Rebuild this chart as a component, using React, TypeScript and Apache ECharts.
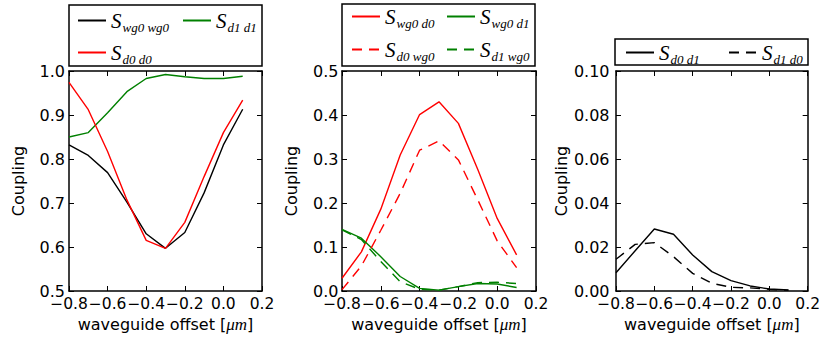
import React, { useEffect, useRef } from "react";
import * as echarts from "echarts";

// waveguide offset [µm]
const offsets = [-0.8, -0.7, -0.6, -0.5, -0.4, -0.3, -0.2, -0.1, 0.0, 0.1];

// Panel 1
const sWg0Wg0 = [0.832, 0.808, 0.769, 0.702, 0.63, 0.597, 0.633, 0.723, 0.832, 0.913];
const sD1D1 = [0.85, 0.86, 0.905, 0.953, 0.983, 0.992, 0.987, 0.983, 0.983, 0.988];
const sD0D0 = [0.974, 0.912, 0.817, 0.707, 0.615, 0.597, 0.656, 0.76, 0.86, 0.934];

// Panel 2
const sWg0D0 = [0.029, 0.089, 0.186, 0.309, 0.401, 0.43, 0.381, 0.276, 0.165, 0.082];
const sD0Wg0 = [0.003, 0.057, 0.138, 0.222, 0.32, 0.341, 0.298, 0.207, 0.114, 0.053];
const sWg0D1 = [0.14, 0.12, 0.078, 0.033, 0.006, 0.002, 0.01, 0.017, 0.016, 0.008];
const sD1Wg0 = [0.139, 0.117, 0.067, 0.021, 0.004, 0.002, 0.01, 0.019, 0.02, 0.017];

// Panel 3
const sD0D1 = [0.0083, 0.0183, 0.0282, 0.0258, 0.0164, 0.0088, 0.0047, 0.0023, 0.0009, 0.0005];
const sD1D0 = [0.0144, 0.0212, 0.022, 0.0156, 0.008, 0.0035, 0.0017, 0.0014, 0.0008, 0.0003];

// axis settings
const xMin = -0.8;
const xMax = 0.2;
const xStep = 0.2;
const yRanges = [
  { min: 0.5, max: 1.0, step: 0.1, digits: 1 },
  { min: 0.0, max: 0.5, step: 0.1, digits: 1 },
  { min: 0.0, max: 0.1, step: 0.02, digits: 2 },
];

const RED = "#ff0000";
const GREEN = "#008000";
const BLACK = "#000000";
const SANS = "DejaVu Sans";
const SERIF = "Liberation Serif";

const grids = [
  { left: 69, top: 71, width: 193, height: 220 },
  { left: 342, top: 71, width: 194, height: 220 },
  { left: 616, top: 71, width: 192, height: 220 },
];
const yLabelMargins = [4, 3.5, 6.5];

const pair = (ys: number[]) => offsets.map((x, i) => [x, ys[i]]);

const fmtX = (v: number) => {
  const a = Math.abs(v).toFixed(1);
  return v < -1e-9 ? "\u2212" + a : a;
};

const axisLine = { show: true, onZero: false, lineStyle: { color: BLACK, width: 1.5 } };
const axisTick = { show: true, inside: true, length: 5, lineStyle: { color: BLACK, width: 1 } };

function xAxes(i: number) {
  const base = {
    type: "value",
    gridIndex: i,
    min: xMin,
    max: xMax,
    interval: xStep,
    axisLine,
    axisTick,
    splitLine: { show: false },
  };
  return [
    {
      ...base,
      position: "bottom",
      axisLabel: {
        margin: 6.5,
        fontSize: 15.5,
        lineHeight: 12,
        color: BLACK,
        fontFamily: SANS,
        formatter: fmtX,
        showMinLabel: true,
        showMaxLabel: true,
        hideOverlap: false,
      },
      name: "waveguide offset [{it|\u03bcm}]",
      nameLocation: "middle",
      nameGap: 24,
      nameTextStyle: {
        fontSize: 16,
        color: BLACK,
        fontFamily: SANS,
        rich: { it: { fontSize: 17, fontStyle: "italic", fontFamily: SERIF, color: BLACK } },
      },
    },
    { ...base, position: "top", axisLabel: { show: false } },
  ];
}

function yAxes(i: number) {
  const r = yRanges[i];
  const base = {
    type: "value",
    gridIndex: i,
    min: r.min,
    max: r.max,
    interval: r.step,
    axisLine,
    axisTick,
    splitLine: { show: false },
  };
  return [
    {
      ...base,
      position: "left",
      axisLabel: {
        margin: yLabelMargins[i],
        fontSize: 16,
        lineHeight: 12,
        color: BLACK,
        fontFamily: SANS,
        showMinLabel: true,
        showMaxLabel: true,
        formatter: (v: number) => v.toFixed(r.digits),
      },
      name: "Coupling",
      nameLocation: "middle",
      nameGap: 43,
      nameTextStyle: { fontSize: 16, color: BLACK, fontFamily: SANS },
    },
    { ...base, position: "right", axisLabel: { show: false } },
  ];
}

const DASH = [10, 7];

function line(name: string, ys: number[], color: string, dashed: boolean, panel: number) {
  return {
    type: "line",
    name,
    xAxisIndex: panel * 2,
    yAxisIndex: panel * 2,
    data: pair(ys),
    showSymbol: false,
    symbol: "none",
    lineStyle: { color, width: 1.4, type: dashed ? DASH : "solid" },
    itemStyle: { color },
    emphasis: { disabled: true },
  };
}

const legendRich = {
  s: { fontSize: 21, fontStyle: "italic", fontFamily: SERIF, color: BLACK, verticalAlign: "top", lineHeight: 21 },
  sub: {
    fontSize: 13,
    fontStyle: "italic",
    fontFamily: SERIF,
    color: BLACK,
    verticalAlign: "top",
    lineHeight: 13,
    padding: [11, 0, 0, 1],
  },
};

function legendItem(name: string, left: number, centerY: number) {
  return {
    data: [name],
    left,
    top: centerY - 9,
    orient: "horizontal",
    itemWidth: 28,
    itemHeight: 12,
    itemGap: 0,
    padding: 0,
    selectedMode: false,
    itemStyle: { opacity: 0, borderWidth: 0 },
    formatter: (n: string) => `{s|S}{sub|${n}}`,
    textStyle: { rich: legendRich, padding: [0, 0, 0, 0] },
  };
}

const option = {
  animation: false,
  backgroundColor: "#ffffff",
  grid: grids,
  xAxis: [...xAxes(0), ...xAxes(1), ...xAxes(2)],
  yAxis: [...yAxes(0), ...yAxes(1), ...yAxes(2)],
  legend: [
    legendItem("wg0 wg0", 77, 19),
    legendItem("d1 d1", 182, 19),
    legendItem("d0 d0", 77, 51),
    legendItem("wg0 d0", 351, 15),
    legendItem("wg0 d1", 446, 15),
    legendItem("d0 wg0", 351, 48),
    legendItem("d1 wg0", 446, 48),
    legendItem("d0 d1", 625, 51),
    legendItem("d1 d0", 728, 51),
  ],
  graphic: [
    { type: "rect", shape: { x: 69, y: 5, width: 193, height: 61 }, style: { fill: "none", stroke: BLACK, lineWidth: 1.5 } },
    { type: "rect", shape: { x: 342, y: 4, width: 193, height: 62 }, style: { fill: "none", stroke: BLACK, lineWidth: 1.5 } },
    { type: "rect", shape: { x: 615, y: 39, width: 193, height: 26 }, style: { fill: "none", stroke: BLACK, lineWidth: 1.5 } },
  ],
  series: [
    line("wg0 wg0", sWg0Wg0, BLACK, false, 0),
    line("d1 d1", sD1D1, GREEN, false, 0),
    line("d0 d0", sD0D0, RED, false, 0),
    line("wg0 d0", sWg0D0, RED, false, 1),
    line("wg0 d1", sWg0D1, GREEN, false, 1),
    line("d0 wg0", sD0Wg0, RED, true, 1),
    line("d1 wg0", sD1Wg0, GREEN, true, 1),
    line("d0 d1", sD0D1, BLACK, false, 2),
    line("d1 d0", sD1D0, BLACK, true, 2),
  ],
};

export default function App() {
  const ref = useRef<HTMLDivElement>(null);
  useEffect(() => {
    const chart = echarts.init(ref.current!, null, { renderer: "svg" });
    chart.setOption(option as any);
    return () => chart.dispose();
  }, []);
  return (
    <div
      ref={ref}
      style={{ position: "fixed", left: 0, top: 0, width: 823, height: 343, background: "#fff" }}
    />
  );
}
